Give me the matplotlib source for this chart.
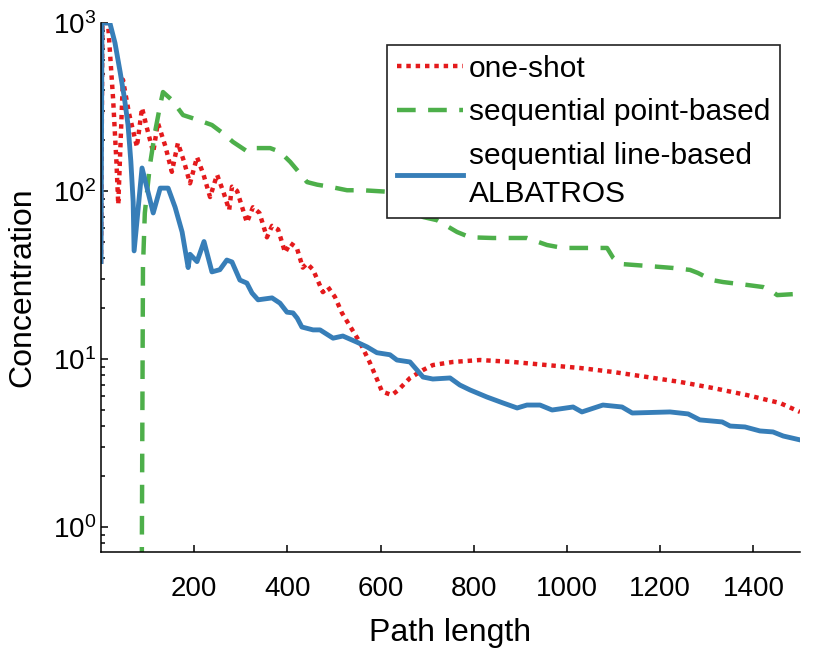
import matplotlib
matplotlib.use('Agg')
import matplotlib.pyplot as plt

plt.rcParams['font.family'] = ['Liberation Sans', 'DejaVu Sans']
plt.rcParams['mathtext.fontset'] = 'custom'
plt.rcParams['mathtext.rm'] = 'Liberation Sans'

# one-shot
oneshot_x = [0, 3, 15, 26, 33, 37, 47, 60, 77, 88, 98, 112, 122, 138, 152, 165, 178, 191, 206,
             220, 234, 249, 263, 275, 281, 292, 313, 326, 340, 356, 367, 380, 395, 406, 420, 433,
             442, 455, 476, 487, 502, 517, 530, 556, 577, 592, 603, 624, 637, 663, 691, 712, 755,
             813, 884, 957, 1028, 1099, 1172, 1243, 1313, 1386, 1457, 1500]
oneshot_y = [37, 1000, 1000, 350, 150, 83, 460, 290, 183, 312, 240, 170, 254, 185, 130, 193, 150,
             111, 159, 125, 92, 125, 98, 77, 106, 100, 65, 80, 74, 53, 62, 59, 43, 49, 46, 35,
             37, 34, 25, 26.8, 23.4, 18.8, 16.4, 12.5, 9.5, 7.6, 6.4, 6.1, 6.5, 7.7, 8.6, 9.2,
             9.6, 9.86, 9.6, 9.2, 8.84, 8.37, 7.81, 7.3, 6.72, 6.1, 5.47, 4.84]

# sequential point-based
point_x = [85, 90, 94, 105, 116, 127, 133, 152, 176, 195, 219, 238, 266, 283, 315, 330, 363, 384,
           406, 421, 442, 464, 491, 528, 562, 614, 650, 691, 721, 764, 792, 841, 914, 957, 991,
           1071, 1086, 1099, 1114, 1172, 1228, 1264, 1281, 1311, 1335, 1386, 1421, 1436, 1451,
           1494, 1500]
point_y = [0.01, 35, 74, 143, 225, 325, 388, 348, 283, 272, 258, 247, 216, 196, 171, 180, 180, 171,
           149, 133, 113, 109, 106, 101, 101, 99, 88, 70, 67, 57, 53, 52.5, 52.5, 47.7, 45.8,
           45.8, 45.8, 40, 36.8, 35.8, 34.8, 33.9, 32.5, 29.5, 28.7, 27.6, 26.8, 25.7, 24,
           24.4, 24.4]

# sequential line-based ALBATROS
line_x = [0, 2, 19, 30, 41, 50, 58, 64, 69, 71, 88, 112, 127, 144, 159, 174, 187, 191,
          206, 221, 238, 255, 270, 281, 298, 313, 324, 337, 367, 384, 399, 412, 421, 431, 455,
          470, 498, 519, 549, 571, 592, 620, 635, 663, 678, 691, 712, 749, 770, 792, 828, 863,
          893, 914, 942, 968, 1013, 1032, 1077, 1118, 1140, 1221, 1260, 1285, 1333, 1350, 1382,
          1414, 1442, 1464, 1500]
line_y = [38, 1000, 1000, 760, 511, 360, 247, 150, 86, 44, 137, 74, 104, 104, 80, 57, 35,
          42, 38, 50, 33, 34, 38.8, 37.8, 29.5, 28.3, 24.7, 22.5, 23.1, 21.5, 19, 18.8, 17.5,
          15.5, 14.9, 14.9, 13.3, 13.7, 12.6, 11.8, 10.9, 10.6, 9.86, 9.6, 8.6, 7.81, 7.6, 7.71,
          7.0, 6.54, 5.94, 5.47, 5.11, 5.32, 5.32, 4.97, 5.18, 4.84, 5.32, 5.18, 4.77, 4.84,
          4.71, 4.34, 4.22, 3.99, 3.94, 3.73, 3.68, 3.48, 3.30]

xticks = [200, 400, 600, 800, 1000, 1200, 1400]

fig = plt.figure(figsize=(8.16, 6.58), dpi=100)
ax = fig.add_axes([0.1238, 0.1611, 0.8566, 0.804])

ax.plot(oneshot_x, oneshot_y, color='#e41a1c', lw=3.2, dashes=(1, 1.1),
        dash_capstyle='butt', dash_joinstyle='round', label='one-shot')
ax.plot(point_x, point_y, color='#4daf4a', lw=3.2, dashes=(4.2, 2.8),
        dash_capstyle='butt', dash_joinstyle='round', label='sequential point-based')
ax.plot(line_x, line_y, color='#377eb8', lw=3.5, solid_joinstyle='round',
        label='sequential line-based\nALBATROS')

ax.set_yscale('log')
ax.set_xlim(0, 1500)
ax.set_ylim(0.71, 1000)
ax.set_xticks(xticks)

ax.spines['top'].set_visible(False)
ax.spines['right'].set_visible(False)
for s in ['left', 'bottom']:
    ax.spines[s].set_linewidth(1.1)
ax.tick_params(which='both', direction='in', labelsize=20, width=1.1)
ax.tick_params(which='major', length=5)
ax.tick_params(which='minor', length=3)
ax.tick_params(axis='x', pad=17)

ax.set_xlabel('Path length', fontsize=23, labelpad=12)
ax.set_ylabel('Concentration', fontsize=23, labelpad=11)

leg = ax.legend(loc='upper right', bbox_to_anchor=(780 / 816, 1 - 45 / 658),
                bbox_transform=fig.transFigure, fontsize=21.5, frameon=True, fancybox=False,
                handlelength=2.2, handletextpad=0.2, borderpad=0.33, labelspacing=0.52,
                borderaxespad=0)
for t in leg.get_texts():
    t.set_linespacing(1.45)
leg.get_frame().set_edgecolor('#222222')
leg.get_frame().set_linewidth(1.2)
leg.get_frame().set_alpha(1)

fig.savefig('out.png', dpi=100)
